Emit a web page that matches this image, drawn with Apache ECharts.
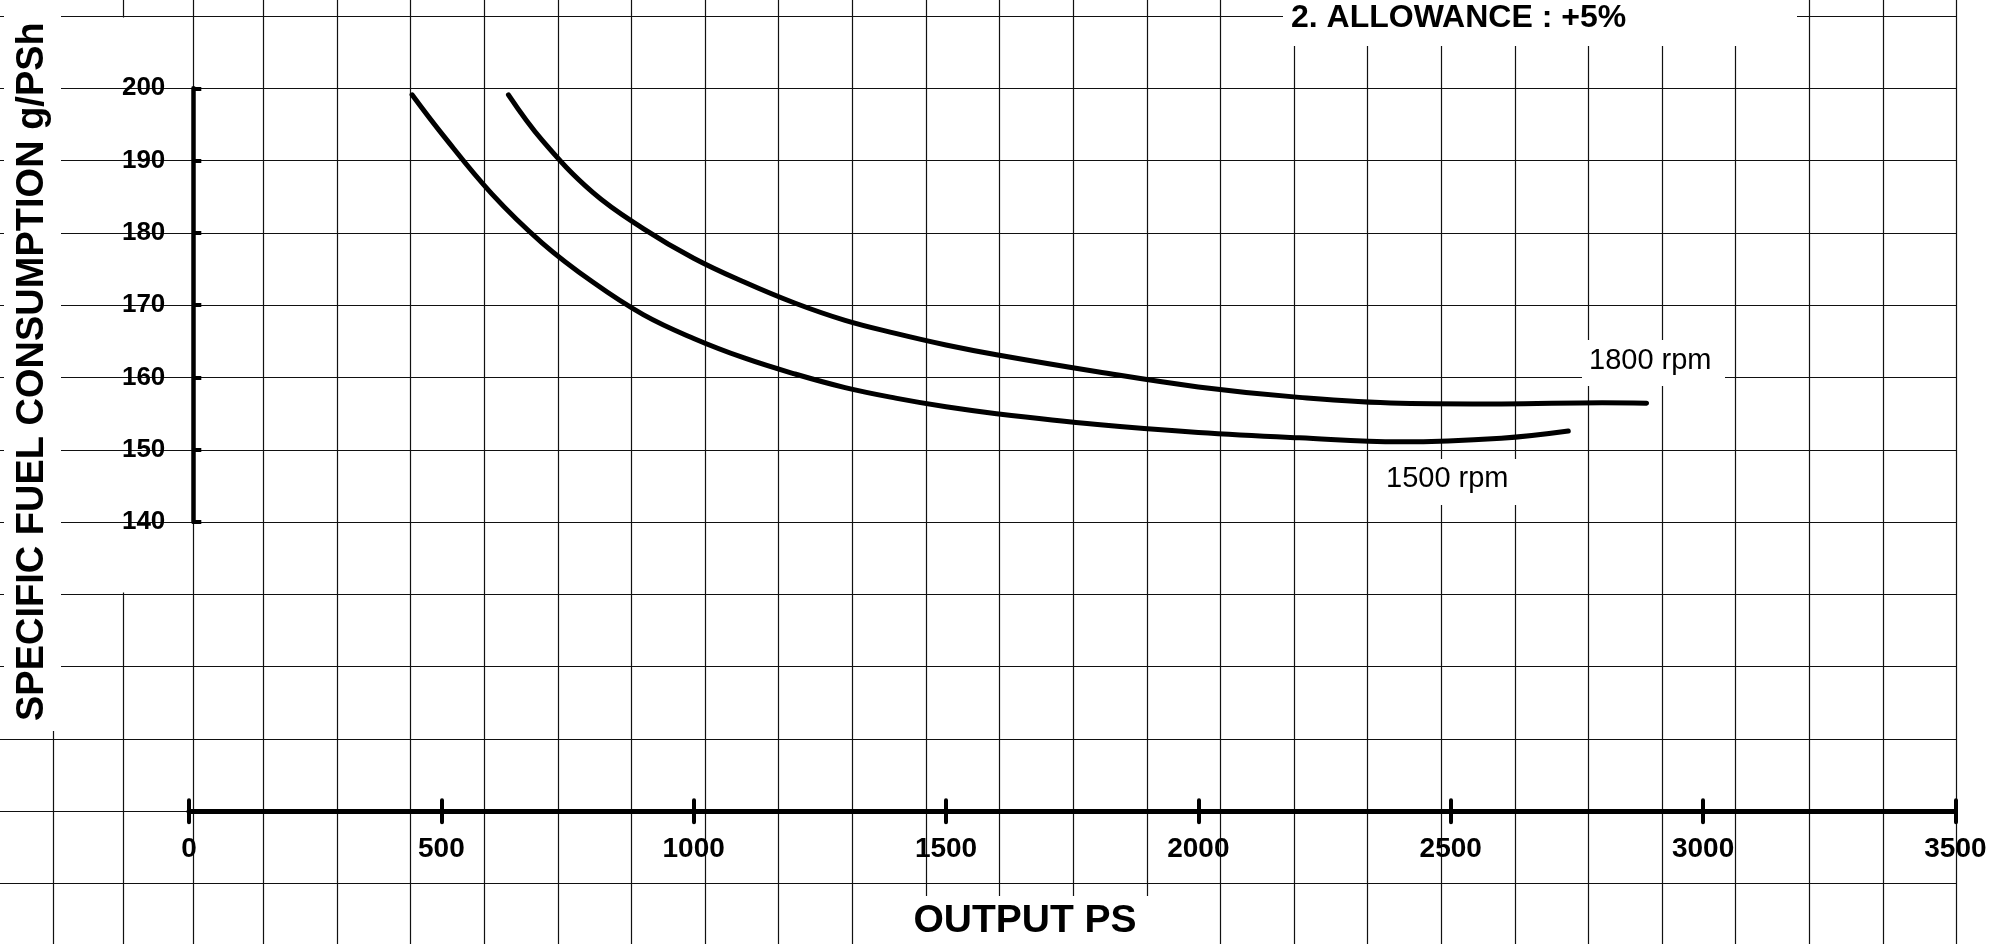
<!DOCTYPE html>
<html>
<head>
<meta charset="utf-8">
<title>Specific fuel consumption</title>
<script src="https://cdn.jsdelivr.net/npm/echarts@6/dist/echarts.min.js"></script>
<style>
  html, body { margin: 0; padding: 0; background: #fff; }
  #chart { width: 2015px; height: 944px; }
</style>
</head>
<body>
<div id="chart"></div>
<script>
  // readings off the sheet: output PS -> g/PSh
  const out1500 = [442, 500, 600, 700, 800, 900, 1000, 1100, 1200, 1300, 1400, 1500, 1600, 1800, 2000, 2200, 2400, 2600, 2733];
  const sfc1500 = [199.1, 193.8, 185.4, 178.6, 173.2, 168.7, 165.4, 162.7, 160.5, 158.6, 157.15, 155.95, 155.0, 153.5, 152.4, 151.65, 151.1, 151.6, 152.6];
  const out1800 = [633, 700, 800, 900, 1000, 1100, 1200, 1300, 1400, 1500, 1600, 1800, 2000, 2200, 2400, 2600, 2800, 2888];
  const sfc1800 = [199.1, 192.8, 185.6, 180.6, 176.5, 173.2, 170.3, 167.9, 166.1, 164.5, 163.15, 160.8, 158.7, 157.25, 156.45, 156.35, 156.5, 156.45];

  const xRange = [0, 3500, 500];   // min, max, step
  const yRange = [140, 200, 10];

  const black = '#000';
  const rule = { color: '#111', width: 1.2 };
  const sans = '"Liberation Sans", Arial, sans-serif';

  function zip(xs, ys) {
    return xs.map((x, i) => [x, ys[i]]);
  }

  function dummy(gridIndex) {
    return { gridIndex: gridIndex, type: 'value', show: false, min: 0, max: 1 };
  }

  function paperRules(gridIndex, count, z) {
    return {
      gridIndex: gridIndex, type: 'value', min: 0, max: count, interval: 1, z: z,
      axisLine: { show: false }, axisTick: { show: false }, axisLabel: { show: false },
      splitLine: { show: true, lineStyle: rule }
    };
  }

  function curve(name, xs, ys) {
    return {
      name: name, type: 'line', xAxisIndex: 3, yAxisIndex: 3, z: 6,
      data: zip(xs, ys),
      smooth: 0.4,
      symbol: 'none', showSymbol: false, clip: false,
      lineStyle: { color: black, width: 5, cap: 'round' }
    };
  }

  function whiteBox(x, y, w, h, z) {
    return { type: 'rect', z: z, silent: true, shape: { x: x, y: y, width: w, height: h }, style: { fill: '#fff' } };
  }

  function label(text, x, y, size, weight, align, rotation) {
    return {
      type: 'text', z: 5, x: x, y: y, rotation: rotation || 0, silent: true,
      style: {
        text: text, fill: black, fontSize: size, fontWeight: weight, fontFamily: sans,
        align: align, textAlign: align, verticalAlign: 'middle', textVerticalAlign: 'middle'
      }
    };
  }

  const chart = echarts.init(document.getElementById('chart'));

  const option = {
    animation: false,
    backgroundColor: '#fff',
    grid: [
      { left: 0, right: 58.4, top: 16, bottom: 60.4 },       // paper, horizontal rules
      { left: 263.4, right: 58.4, top: 0, bottom: 0 },        // paper, vertical rules
      { left: 53.3, right: 1821.7, top: 0, bottom: 0 },       // paper, left rules
      { left: 189, right: 59.6, top: 88.3, bottom: 421.9 },   // curves + sfc axis
      { left: 189, right: 59.6, top: 700, bottom: 132.7 }     // output axis
    ],
    xAxis: [
      dummy(0),
      paperRules(1, 23, 1),
      paperRules(2, 2, 1),
      { gridIndex: 3, type: 'value', show: false, min: xRange[0], max: xRange[1] },
      {
        gridIndex: 4, type: 'value', position: 'bottom', z: 7,
        min: xRange[0], max: xRange[1], interval: xRange[2],
        axisLine: { lineStyle: { color: black, width: 5 } },
        axisTick: { length: 11, lineStyle: { color: black, width: 4, cap: 'round' } },
        axisLabel: {
          margin: 24, color: black, fontFamily: sans, fontWeight: 'bold', fontSize: 28,
          formatter: (v) => String(v)
        },
        splitLine: { show: false }
      },
      {
        gridIndex: 4, type: 'value', position: 'bottom', z: 7,
        min: xRange[0], max: xRange[1], interval: xRange[2],
        axisLine: { show: false },
        axisTick: { inside: true, length: 11, lineStyle: { color: black, width: 4, cap: 'round' } },
        axisLabel: { show: false },
        splitLine: { show: false }
      }
    ],
    yAxis: [
      {
        gridIndex: 0, type: 'value', min: 90, max: 210, interval: 10, z: 3,
        axisLine: { show: false }, axisTick: { show: false }, axisLabel: { show: false },
        splitLine: { show: true, lineStyle: rule }
      },
      dummy(1),
      dummy(2),
      {
        gridIndex: 3, type: 'value', position: 'left', offset: -4.3, z: 7,
        min: yRange[0], max: yRange[1], interval: yRange[2],
        axisLine: { show: true, lineStyle: { color: black, width: 4.5 } },
        axisTick: { show: true, inside: true, length: 8, lineStyle: { color: black, width: 4 } },
        axisLabel: {
          margin: 28, color: black, fontFamily: sans, fontWeight: 'bold', fontSize: 26,
          padding: [0, 0, 6, 0], formatter: (v) => String(v)
        },
        splitLine: { show: false }
      },
      dummy(4)
    ],
    graphic: [
      whiteBox(117, 17.5, 12, 575, 2),
      whiteBox(4, 0, 57, 731, 4),
      whiteBox(1283, 0, 514, 46, 4),
      whiteBox(1582, 340, 143, 46, 4),
      whiteBox(1376, 459, 144, 46, 4),
      whiteBox(862, 896, 328, 48, 4),
      label('SPECIFIC FUEL CONSUMPTION g/PSh', 32.5, 721, 38, 'bold', 'left', Math.PI / 2),
      label('2. ALLOWANCE : +5%', 1291, 18, 32, 'bold', 'left'),
      label('1800 rpm', 1589, 361, 29, 'normal', 'left'),
      label('1500 rpm', 1386, 479, 29, 'normal', 'left'),
      label('OUTPUT PS', 1025, 921, 39, 'bold', 'center')
    ],
    series: [
      curve('1500 rpm', out1500, sfc1500),
      curve('1800 rpm', out1800, sfc1800)
    ]
  };

  chart.setOption(option);
</script>
</body>
</html>
